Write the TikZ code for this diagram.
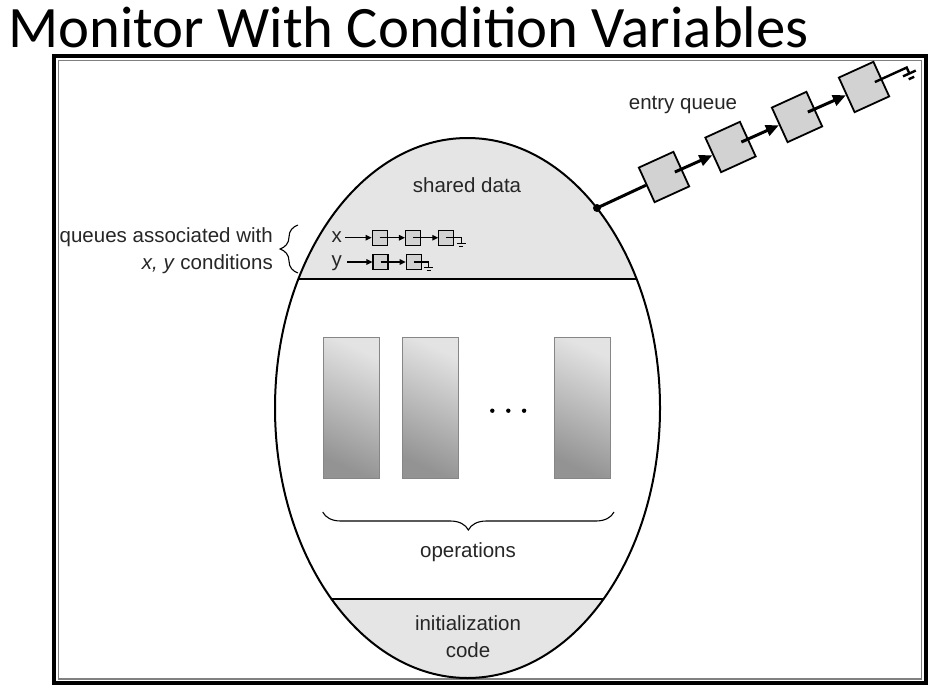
\documentclass[tikz,border=0pt]{standalone}
\usepackage{fontspec}
\setmainfont{Liberation Sans}
\newfontfamily\titlefont{Carlito}
\usetikzlibrary{arrows.meta,decorations.pathreplacing,calc}
\begin{document}
\begin{tikzpicture}[x=1pt,y=-1pt,
  lbl/.style={font=\fontsize{20.5}{26.7}\selectfont, text=black!85, inner sep=0pt},
  qlbl/.style={font=\fontsize{20.5}{24}\selectfont, text=black!85, inner sep=0pt, anchor=base},
  bigbox/.style={draw, line width=1.8pt, fill=gray!35, minimum size=38pt, rotate=24.5, inner sep=0pt},
  smallbox/.style={draw, line width=1.1pt, fill=gray!35, minimum size=15pt, inner sep=0pt},
  bigptr/.style={line width=3pt, -{Triangle[length=13pt,width=11pt]}},
  smallptr/.style={line width=1.3pt, -{Triangle[length=6pt,width=5.5pt]}},
  gnd/.style={line width=1.1pt},
  biggnd/.style={line width=2.4pt},
  opbox/.style={draw=gray!95, line width=0.8pt, top color=gray!22, bottom color=gray!85, shading angle=-25},
  brc/.style={line width=1.1pt, decorate, decoration={brace, amplitude=18pt}}
]
\useasboundingbox (0,0) rectangle (936,688);
\fill[white] (0,0) rectangle (936,688);

% title
\node[anchor=base west, inner sep=0pt, font=\titlefont\fontsize{58.7}{62}\selectfont] (title) at (8,47.5) {Monitor With Condition Variables};

% frame
\draw[line width=4pt] (54,56) rectangle (925.5,683);
\draw[line width=1.5pt, gray] (58.5,60.5) rectangle (921.5,679);

% monitor ellipse with shaded regions
\begin{scope}
  \clip (467.5,408) ellipse [x radius=192.5, y radius=270];
  \fill[gray!20] (200,100) rectangle (700,279);
  \fill[gray!20] (200,599) rectangle (700,700);
  \draw[line width=2pt] (200,279) -- (700,279);
  \draw[line width=2pt] (200,599) -- (700,599);
\end{scope}
\draw[line width=2pt] (467.5,408) ellipse [x radius=192.5, y radius=270];

% texts inside the monitor
\node[lbl] (shared) at (467,185) {shared data};
\node[lbl] (ops) at (468,552) {operations};
\node[lbl, align=center] (init) at (468,637) {initialization\\code};

% operation boxes
\shade[opbox] (323.3,337.3) rectangle (379,478.3);
\shade[opbox] (402.7,337.3) rectangle (458.3,478.3);
\shade[opbox] (554,337.3) rectangle (610,478.3);
\foreach \dx in {492.3,508.3,524.1} \fill (\dx,410.7) circle (2.2pt);

% operations brace
\draw[brc, decoration={mirror}] (322.7,512) -- (614,512);

% condition queues
\node[qlbl] (xl) at (336.7,242.3) {x};
\node[qlbl] (yl) at (336.7,266.6) {y};
\node[smallbox] (x1) at (379.7,237.7) {};
\node[smallbox] (x2) at (413,237.7) {};
\node[smallbox] (x3) at (446.3,237.7) {};
\node[smallbox] (y1) at (380.5,262) {};
\node[smallbox] (y2) at (413.7,262) {};
\draw[smallptr, shorten <=3pt] (xl.east |- x1.west) -- (x1.west);
\draw[smallptr] (x1.center) -- (x2.west);
\draw[smallptr] (x2.center) -- (x3.west);
\draw[smallptr, shorten <=5pt] (yl.east |- y1.west) -- (y1.west);
\draw[smallptr] (y1.center) -- (y2.west);
\draw[gnd] (x3.center) -- ++(15,0) -- ++(0,5);
\draw[gnd] ($(x3.center)+(10.5,5.5)$) -- ++(9,0);
\draw[gnd] ($(x3.center)+(13,8.5)$) -- ++(4,0);
\draw[gnd] (y2.center) -- ++(15,0) -- ++(0,5);
\draw[gnd] ($(y2.center)+(10.5,5.5)$) -- ++(9,0);
\draw[gnd] ($(y2.center)+(13,8.5)$) -- ++(4,0);

% brace + label for condition queues
\draw[brc] (298,273) -- (298,225);
\node[lbl, align=right, anchor=east] (qlabel) at (273,250.5) {queues associated with\\\textit{x, y} conditions};

% entry queue
\node[lbl] (entrylbl) at (683,105) {entry queue};
\coordinate (entry) at (597,208);
\fill (entry) circle (4pt);
\node[bigbox] (b1) at (664,177) {};
\node[bigbox] (b2) at (730.5,147) {};
\node[bigbox] (b3) at (797,117) {};
\node[bigbox] (b4) at (864,87) {};
\draw[line width=3pt] (entry) -- (b1.west);
\draw[bigptr] ($(b1.center)!0.6!(b1.east)$) -- (b2.west);
\draw[bigptr] ($(b2.center)!0.6!(b2.east)$) -- (b3.west);
\draw[bigptr] ($(b3.center)!0.6!(b3.east)$) -- (b4.west);
\draw[biggnd] ($(b4.center)!0.6!(b4.east)$) -- (b4.east);
\begin{scope}[shift={(b4.east)}, rotate=24.5]
  \draw[biggnd] (0,0) -- (27,0) -- (27,6);
  \draw[biggnd] (20,6.5) -- (34,6.5);
  \draw[biggnd] (24,11.5) -- (30,11.5);
\end{scope}
\end{tikzpicture}
\end{document}
